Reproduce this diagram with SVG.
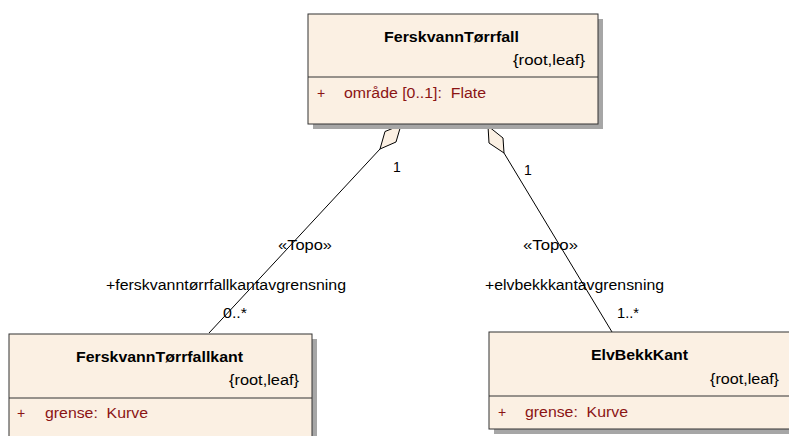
<svg xmlns="http://www.w3.org/2000/svg" width="789" height="436" viewBox="0 0 789 436">
<style>
.box{fill:#FBF0E3;stroke:#333;stroke-width:1}
.shadow{fill:#A6A6A6}
.div{stroke:#333;stroke-width:1}
.title{font-family:"Liberation Sans",Arial,sans-serif;font-weight:bold;font-size:15px;fill:#000}
.tag{font-family:"Liberation Sans",Arial,sans-serif;font-size:14px;fill:#000}
.attr{font-family:"Liberation Sans",Arial,sans-serif;font-size:14px;fill:#8B1414;white-space:pre}
.lbl{font-family:"Liberation Sans",Arial,sans-serif;font-size:14px;fill:#000}
.conn{stroke:#000;stroke-width:1;fill:none}
.dia{fill:#FBF0E3;stroke:#000;stroke-width:1}
</style>
<rect width="789" height="436" fill="#fff"/>
<g id="connectors">
<line class="conn" x1="380" y1="149" x2="209" y2="333"/>
<polygon class="dia" points="401,125 385,131.5 380,149 396,142"/>
<line class="conn" x1="504" y1="153" x2="612" y2="332"/>
<polygon class="dia" points="488,126 489,143 504,153 503,138"/>
<text class="lbl" x="393" y="172">1</text>
<text class="lbl" x="278" y="250" textLength="54" lengthAdjust="spacingAndGlyphs">«Topo»</text>
<text class="lbl" x="106" y="290" textLength="240" lengthAdjust="spacingAndGlyphs">+ferskvanntørrfallkantavgrensning</text>
<text class="lbl" x="223" y="318" textLength="24" lengthAdjust="spacingAndGlyphs">0..*</text>
<text class="lbl" x="524" y="175">1</text>
<text class="lbl" x="523" y="250" textLength="55" lengthAdjust="spacingAndGlyphs">«Topo»</text>
<text class="lbl" x="485" y="290" textLength="179" lengthAdjust="spacingAndGlyphs">+elvbekkkantavgrensning</text>
<text class="lbl" x="617" y="318" textLength="22" lengthAdjust="spacingAndGlyphs">1..*</text>
</g>
<g id="FerskvannTorrfall">
<rect class="shadow" x="313" y="19" width="290" height="110"/>
<rect class="box" x="308" y="14" width="290" height="110"/>
<line class="div" x1="308" y1="77" x2="598" y2="77"/>
<text class="title" x="384" y="42" textLength="135" lengthAdjust="spacingAndGlyphs">FerskvannTørrfall</text>
<text class="tag" x="585" y="65" text-anchor="end" textLength="72" lengthAdjust="spacingAndGlyphs">{root,leaf}</text>
<text class="attr" x="317" y="98">+</text>
<text class="attr" x="344" y="98" textLength="142" lengthAdjust="spacingAndGlyphs">område [0..1]:  Flate</text>
</g>
<g id="FerskvannTorrfallkant">
<rect class="shadow" x="14" y="339" width="303" height="110"/>
<rect class="box" x="9" y="334" width="303" height="110"/>
<line class="div" x1="9" y1="398" x2="312" y2="398"/>
<text class="title" x="76" y="362" textLength="167" lengthAdjust="spacingAndGlyphs">FerskvannTørrfallkant</text>
<text class="tag" x="299" y="385" text-anchor="end" textLength="70" lengthAdjust="spacingAndGlyphs">{root,leaf}</text>
<text class="attr" x="17" y="418">+</text>
<text class="attr" x="45" y="418" textLength="103" lengthAdjust="spacingAndGlyphs">grense:  Kurve</text>
</g>
<g id="ElvBekkKant">
<rect class="shadow" x="494" y="337" width="303" height="97"/>
<rect class="box" x="489" y="332" width="303" height="97"/>
<line class="div" x1="489" y1="396" x2="792" y2="396"/>
<text class="title" x="591" y="360" textLength="97" lengthAdjust="spacingAndGlyphs">ElvBekkKant</text>
<text class="tag" x="779" y="384" text-anchor="end" textLength="69" lengthAdjust="spacingAndGlyphs">{root,leaf}</text>
<text class="attr" x="498" y="417">+</text>
<text class="attr" x="525" y="417" textLength="103" lengthAdjust="spacingAndGlyphs">grense:  Kurve</text>
</g>
</svg>
